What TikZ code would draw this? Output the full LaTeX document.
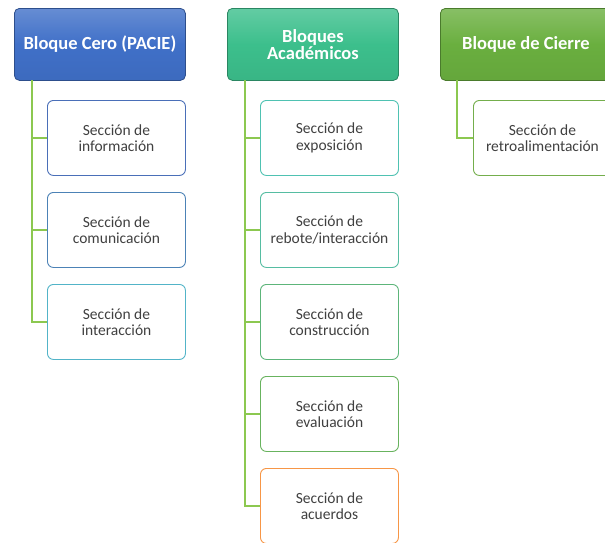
\documentclass[tikz,border=0pt]{standalone}
\usepackage{fontspec}
\setmainfont{Carlito}
\begin{document}
\begin{tikzpicture}[x=1pt,y=-1pt,
  hdr/.style={draw=#1!70!black, line width=0.8pt, rounded corners=5pt, minimum width=171pt, minimum height=72pt,
    anchor=north west, inner sep=2pt, text=white, font=\fontsize{18.5}{17.5}\selectfont\bfseries, align=center,
    top color=#1!80!white, bottom color=#1!95!black, middle color=#1},
  sec/.style={draw=#1, line width=0.9pt, rounded corners=6pt, fill=white, minimum width=138pt, minimum height=75pt,
    anchor=north west, text=black!75, font=\fontsize{15.5}{16.5}\selectfont, align=center},
  link/.style={draw=lgreen, line width=1.2pt}]
\definecolor{hblue}{HTML}{4070C8}
\definecolor{hteal}{HTML}{3CBF8C}
\definecolor{hgreen}{HTML}{6AAF3F}
\definecolor{lgreen}{HTML}{8CC850}
\definecolor{bInfo}{HTML}{4A6FB8}
\definecolor{bCom}{HTML}{4C82B6}
\definecolor{bInt}{HTML}{52B4C8}
\definecolor{bExp}{HTML}{4FC2B2}
\definecolor{bReb}{HTML}{56BDA2}
\definecolor{bCon}{HTML}{5DB57A}
\definecolor{bEva}{HTML}{68B35E}
\definecolor{bAcu}{HTML}{F79646}
\definecolor{bRet}{HTML}{74AE4C}
\clip (0,0) rectangle (605,542);
\useasboundingbox (0,0) rectangle (605,542);
% headers
\node[hdr=hblue] (h1) at (14,8) {Bloque Cero (PACIE)};
\node[hdr=hteal] (h2) at (227,8) {Bloques\\Académicos};
\node[hdr=hgreen] (h3) at (440,8) {Bloque de Cierre};
% column 1
\node[sec=bInfo] (c11) at (47,100) {Sección de\\información};
\node[sec=bCom] (c12) at (47,192) {Sección de\\comunicación};
\node[sec=bInt] (c13) at (47,284) {Sección de\\interacción};
% column 2
\node[sec=bExp] (c21) at (260,100) {Sección de\\exposición};
\node[sec=bReb] (c22) at (260,192) {Sección de\\rebote/interacción};
\node[sec=bCon] (c23) at (260,284) {Sección de\\construcción};
\node[sec=bEva] (c24) at (260,376) {Sección de\\evaluación};
\node[sec=bAcu] (c25) at (260,468) {Sección de\\acuerdos};
% column 3
\node[sec=bRet] (c31) at (473,100) {Sección de\\retroalimentación};
% connectors
\coordinate (t1) at (32,80);
\coordinate (t2) at (245,80);
\coordinate (t3) at (457,80);
\draw[link] (t1) |- (c11.west);
\draw[link] (t1) |- (c12.west);
\draw[link] (t1) |- (c13.west);
\draw[link] (t2) |- (c21.west);
\draw[link] (t2) |- (c22.west);
\draw[link] (t2) |- (c23.west);
\draw[link] (t2) |- (c24.west);
\draw[link] (t2) |- (c25.west);
\draw[link] (t3) |- (c31.west);
\end{tikzpicture}
\end{document}
